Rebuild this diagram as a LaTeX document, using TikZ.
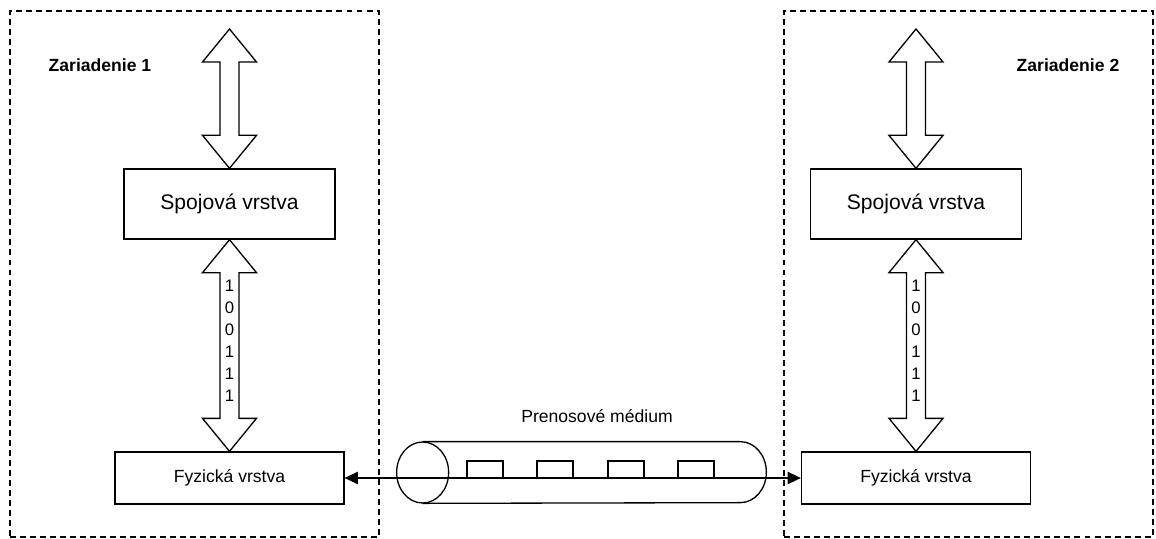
\documentclass[tikz,border=0pt]{standalone}
\usepackage{fontspec}
\setmainfont{Liberation Sans}
\usepackage{tikz}
\usetikzlibrary{arrows.meta, positioning, calc}

\tikzset{
  layer/.style={draw, line width=0.75pt, font=\fontsize{12}{14}\selectfont, minimum width=4.22cm, minimum height=1.4cm},
  phys/.style={draw, line width=0.75pt, font=\fontsize{10}{12}\selectfont, minimum width=4.58cm, minimum height=1.04cm},
  device/.style={draw, line width=0.75pt, dash pattern=on 3.4pt off 2.3pt, minimum width=7.38cm, minimum height=10.52cm},
  devlabel/.style={font=\bfseries\fontsize{10}{12}\selectfont},
  bits/.style={font=\fontsize{9.5}{12.5}\selectfont, align=center, inner sep=0pt},
  hollow/.style={draw, line width=0.75pt, fill=white, to path={
    let \p1=(\tikztostart), \p2=(\tikztotarget) in
    (\x1,\y1) -- (\x1+0.54cm,\y1-0.66cm) -- (\x1+0.19cm,\y1-0.66cm)
    -- (\x1+0.19cm,\y2+0.66cm) -- (\x1+0.54cm,\y2+0.66cm) -- (\x1,\y2)
    -- (\x1-0.54cm,\y2+0.66cm) -- (\x1-0.19cm,\y2+0.66cm)
    -- (\x1-0.19cm,\y1-0.66cm) -- (\x1-0.54cm,\y1-0.66cm) -- cycle}},
  wire/.style={line width=0.75pt, {Triangle[length=7.5pt,width=7pt]}-{Triangle[length=7.5pt,width=7pt]}}
}

\begin{document}
\begin{tikzpicture}
        \useasboundingbox (0,0) rectangle (23.12,10.76);

        % Devices
        \node[device] (dev1) at (3.89,5.28) {};
        \node[device] (dev2) at (19.37,5.28) {};
        \node[devlabel] (lab1) at (2.0,9.46) {Zariadenie 1};
        \node[devlabel] (lab2) at (21.36,9.46) {Zariadenie 2};

        % Layers
        \node[layer] (spoj1) at (4.59,6.68) {Spojová vrstva};
        \node[layer] (spoj2) at (18.32,6.68) {Spojová vrstva};
        \node[phys] (fyz1) at (4.59,1.2) {Fyzická vrstva};
        \node[phys] (fyz2) at (18.32,1.2) {Fyzická vrstva};
        \coordinate (top1) at (4.59,10.18);
        \coordinate (top2) at (18.32,10.18);

        % Hollow arrows
        \draw[hollow] (top1) to (spoj1.north);
        \draw[hollow] (top2) to (spoj2.north);
        \draw[hollow] (spoj1.south) to (fyz1.north);
        \draw[hollow] (spoj2.south) to (fyz2.north);
        \node[bits] (bits1) at ($(spoj1.south)!0.5!(fyz1.north)+(0,0.1)$) {1\\0\\0\\1\\1\\1};
        \node[bits] (bits2) at ($(spoj2.south)!0.5!(fyz2.north)+(0,0.1)$) {1\\0\\0\\1\\1\\1};

        % Medium
        \draw[wire] (fyz1.east) -- (fyz2.west);
        \node[minimum width=7.38cm, minimum height=1.22cm, inner sep=0pt] (medium) at (11.63,1.31) {};
        \node[font=\fontsize{10}{12}\selectfont] (medlabel) at (11.94,2.44) {Prenosové médium};
        \draw[line width=0.75pt] ($(medium.west)+(0.52,0)$) ellipse (0.52 and 0.61);
        \draw[line width=0.75pt] ($(medium.north west)+(0.52,0)$) -- ($(medium.north east)-(0.52,0)$)
            arc (90:-90:0.52 and 0.61) -- ($(medium.south west)+(0.52,0)$);
        \foreach \x in {9.34,10.74,12.16,13.56}
            \draw[line width=0.75pt] (\x,1.2) -- ++(0,0.34) -- ++(0.72,0) -- ++(0,-0.34);
    \end{tikzpicture}
\end{document}
